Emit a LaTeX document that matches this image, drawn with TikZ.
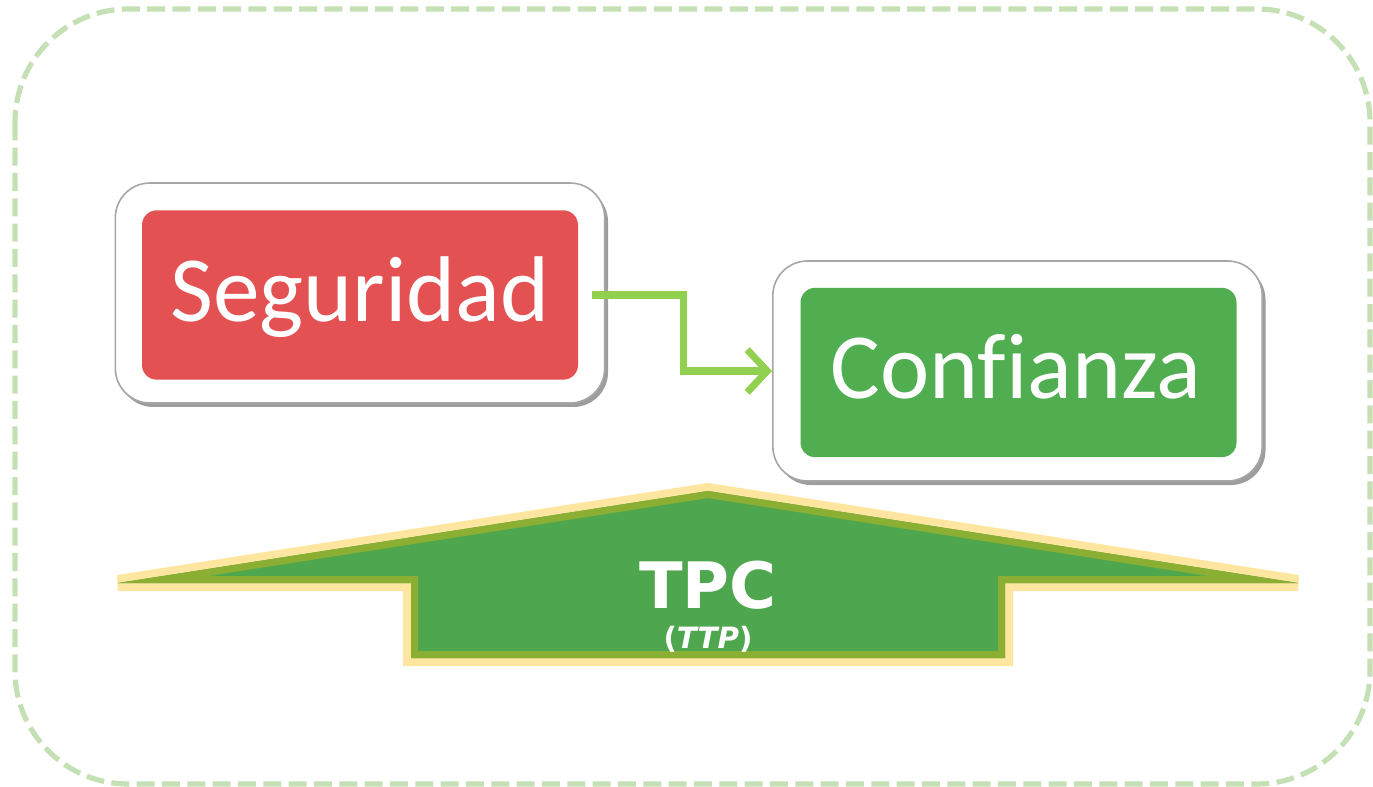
\documentclass[tikz,border=0pt]{standalone}
\usepackage{fontspec}
\setmainfont[Ligatures=NoCommon]{Carlito}
\newfontfamily\dejavu{DejaVu Sans}
\usetikzlibrary{arrows.meta,shadows}
\definecolor{segred}{RGB}{227,81,82}
\definecolor{confgreen}{RGB}{80,173,80}
\definecolor{tpcgreen}{RGB}{78,166,78}
\definecolor{tpcolive}{RGB}{138,175,50}
\definecolor{tpcyellow}{RGB}{255,230,160}
\definecolor{arrowgreen}{RGB}{146,208,80}
\definecolor{dashgreen}{RGB}{197,224,180}
\tikzset{
  outerbox/.style={draw=black!35, line width=1.2pt, fill=white, rounded corners=26pt,
    minimum width=367pt, minimum height=165pt, inner sep=0pt,
    drop shadow={shadow xshift=2.5pt, shadow yshift=-3pt, fill=black!55, opacity=0.7}},
  innerbox/.style={rounded corners=11pt, minimum width=327pt, minimum height=127pt, inner sep=0pt},
  bigtext/.style={text=white, anchor=base, font=\fontsize{70}{84}\selectfont, inner sep=0pt},
  flowarrow/.style={draw=arrowgreen, line width=5.3pt, line join=miter,
    -{Straight Barb[length=15pt, width=32pt, line width=5.3pt]}},
}
\begin{document}
\begin{tikzpicture}[x=0.75pt,y=-0.75pt]
\useasboundingbox (0,0) rectangle (1373,787);
% dashed frame
\draw[dashgreen, line width=3.9pt, dash pattern=on 13.5pt off 5.5pt, rounded corners=85pt]
  (15,9) rectangle (1370,784);
% boxes
\node[outerbox] (segout) at (360,293) {};
\node[innerbox, fill=segred] (seg) at (360,295) {};
\node[bigtext] (segtxt) at (360,322) {Seguridad};
\node[outerbox] (confout) at (1017.5,371) {};
\node[innerbox, fill=confgreen] (conf) at (1018.5,372.5) {};
\node[bigtext] (conftxt) at (1016,398) {Confianza};
% connector
\draw[flowarrow] ([xshift=10.5pt]seg.east) -- ++(91,0) |- (confout.west);
% TPC arrow shape
\def\tpcpath{(708,491) -- (118,583) -- (411,583) -- (411,658) -- (1005,658) -- (1005,583) -- (1298,583) -- cycle}
\draw[tpcyellow, line width=12pt, line join=miter, miter limit=4] \tpcpath;
\fill[tpcgreen] \tpcpath;
\begin{scope}
  \clip \tpcpath;
  \draw[tpcolive, line width=10.5pt] \tpcpath;
\end{scope}
\node[text=white, anchor=base, font=\dejavu\bfseries\fontsize{48}{56}\selectfont, inner sep=0pt] (tpc) at (708,608) {TPC};
\node[text=white, anchor=base, font=\dejavu\bfseries\fontsize{22}{26}\selectfont, inner sep=0pt] (ttp) at (708,648) {(\textit{TTP})};
\end{tikzpicture}
\end{document}
